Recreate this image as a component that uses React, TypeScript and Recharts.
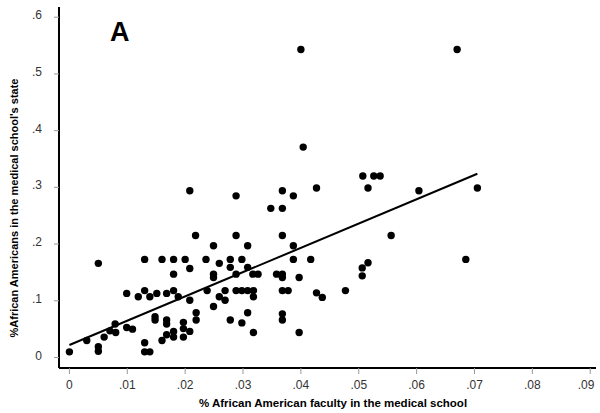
import { Scatter, ScatterChart, XAxis, YAxis } from "recharts";

const FONT = "Arial, 'Liberation Sans', sans-serif";

// % African American faculty in the medical school
const facultyPct = [
  0.0, 0.005, 0.013, 0.016, 0.018, 0.02, 0.018, 0.0099, 0.0119, 0.013, 0.0139, 0.0151, 0.0168, 0.018, 0.0188,
  0.008, 0.007, 0.006, 0.003, 0.005, 0.005, 0.0079, 0.0099, 0.0109, 0.013, 0.013, 0.0139, 0.0148, 0.0148, 0.0168,
  0.0168, 0.0197, 0.016, 0.0168, 0.018, 0.018, 0.0197, 0.0208, 0.0288, 0.0368, 0.0387, 0.0348, 0.0368, 0.0218,
  0.0249, 0.0288, 0.0308, 0.0368, 0.0387, 0.0236, 0.0278, 0.0298, 0.0387, 0.0417, 0.0685, 0.0259, 0.0278, 0.0208,
  0.0308, 0.0249, 0.0249, 0.0288, 0.0317, 0.0326, 0.0358, 0.0368, 0.0368, 0.0397, 0.0208, 0.0238, 0.0259, 0.0269,
  0.0269, 0.0249, 0.0288, 0.0298, 0.0308, 0.0318, 0.0318, 0.0368, 0.0378, 0.0219, 0.0219, 0.0208, 0.0278, 0.0298,
  0.0308, 0.0318, 0.0368, 0.0368, 0.0397, 0.0427, 0.0507, 0.0526, 0.0537, 0.0516, 0.0604, 0.0556, 0.0427, 0.0437,
  0.0477, 0.0506, 0.0516, 0.0506, 0.0705, 0.04, 0.067, 0.0404, 0.0197,
];

// % African Americans in the medical school's state
const statePct = [
  0.01, 0.166, 0.173, 0.173, 0.173, 0.173, 0.147, 0.113, 0.107, 0.118, 0.107, 0.113, 0.113, 0.118, 0.107,
  0.044, 0.047, 0.036, 0.03, 0.019, 0.011, 0.059, 0.053, 0.05, 0.026, 0.01, 0.01, 0.072, 0.066, 0.066,
  0.059, 0.051, 0.03, 0.04, 0.046, 0.036, 0.036, 0.294, 0.285, 0.294, 0.285, 0.263, 0.263, 0.215,
  0.197, 0.215, 0.197, 0.215, 0.197, 0.173, 0.173, 0.173, 0.173, 0.173, 0.173, 0.166, 0.159, 0.157,
  0.159, 0.147, 0.141, 0.147, 0.147, 0.147, 0.147, 0.147, 0.141, 0.141, 0.101, 0.118, 0.107, 0.118,
  0.101, 0.09, 0.118, 0.118, 0.118, 0.118, 0.107, 0.118, 0.118, 0.079, 0.066, 0.046, 0.066, 0.061,
  0.079, 0.044, 0.077, 0.066, 0.044, 0.299, 0.32, 0.32, 0.32, 0.299, 0.294, 0.215, 0.114, 0.106,
  0.118, 0.158, 0.167, 0.144, 0.299, 0.543, 0.543, 0.371, 0.062,
];

// fitted line end points
const fitX = [0, 0.0705];
const fitY = [0.022, 0.324];

const xTicks = [0, 0.01, 0.02, 0.03, 0.04, 0.05, 0.06, 0.07, 0.08, 0.09];
const yTicks = [0, 0.1, 0.2, 0.3, 0.4, 0.5, 0.6];

const points = facultyPct.map((x, i) => ({ x, y: statePct[i] }));
const fit = fitX.map((x, i) => ({ x, y: fitY[i] }));

const fmt = (v: number, d: number) => (v === 0 ? "0" : v.toFixed(d).replace(/^0/, ""));

const XTick = ({ x, y, payload }: any) => (
  <text x={x} y={y} dy={11} textAnchor="middle" fill="#333" fontSize={12} fontFamily={FONT}>
    {fmt(payload.value, 2)}
  </text>
);

const YTick = ({ x, y, payload }: any) => (
  <text x={x} y={y} dy={2} textAnchor="end" fill="#333" fontSize={12} fontFamily={FONT}>
    {fmt(payload.value, 1)}
  </text>
);

export default function App() {
  return (
    <div style={{ position: "absolute", left: 0, top: 0, width: 600, height: 413, background: "#fff" }}>
      <ScatterChart width={600} height={413} margin={{ top: 7, right: 4, bottom: 15, left: 0 }}>
        <XAxis
          type="number"
          dataKey="x"
          domain={[-0.0018, 0.091]}
          ticks={xTicks}
          allowDataOverflow
          height={30}
          tickSize={6}
          tickMargin={4}
          tick={<XTick />}
          axisLine={{ stroke: "#000", strokeWidth: 2 }}
          tickLine={{ stroke: "#999" }}
        />
        <YAxis
          type="number"
          dataKey="y"
          domain={[-0.0185, 0.618]}
          ticks={yTicks}
          allowDataOverflow
          width={59}
          tickSize={5}
          tickMargin={12}
          tick={<YTick />}
          axisLine={{ stroke: "#000", strokeWidth: 2 }}
          tickLine={{ stroke: "#999" }}
        />
        <Scatter data={points} fill="#000" isAnimationActive={false} shape={(p: any) => <circle cx={p.cx} cy={p.cy} r={3.7} fill="#000" />} />
        <Scatter
          data={fit}
          line={{ stroke: "#000", strokeWidth: 2 }}
          shape={() => <g />}
          isAnimationActive={false}
        />
        <text x={110} y={41} fontSize={27} fontWeight="bold" fontFamily={FONT} fill="#000">
          A
        </text>
        <text x={333} y={407} textAnchor="middle" fontSize={11.5} fontWeight="bold" fontFamily={FONT} fill="#000">
          % African American faculty in the medical school
        </text>
        <text
          x={18}
          y={208}
          transform="rotate(-90 18 208)"
          textAnchor="middle"
          fontSize={11}
          fontWeight="bold"
          fontFamily={FONT}
          fill="#000"
        >
          %African Americans in the medical school's state
        </text>
      </ScatterChart>
    </div>
  );
}
